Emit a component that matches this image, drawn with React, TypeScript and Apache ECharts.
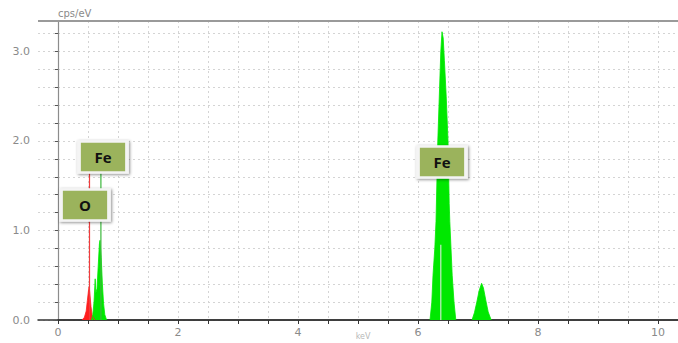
import React, { useEffect, useRef } from "react";
import * as echarts from "echarts";

// ---- data ----
const yAxisName = "cps/eV";
const xAxisName = "keV";

const oEnergy = [0.4, 0.44, 0.47, 0.49, 0.51, 0.52, 0.53, 0.55, 0.57, 0.6, 0.62];
const oCps = [0, 0.03, 0.1, 0.22, 0.34, 0.37, 0.3, 0.15, 0.05, 0.01, 0];

const feLEnergy = [0.56, 0.58, 0.6, 0.62, 0.63, 0.65, 0.67, 0.69, 0.7, 0.72, 0.74, 0.76, 0.78, 0.81];
const feLCps = [0, 0.06, 0.2, 0.46, 0.3, 0.35, 0.6, 0.85, 0.89, 0.7, 0.4, 0.18, 0.06, 0];

const feKaEnergy = [6.2, 6.23, 6.25, 6.28, 6.3, 6.33, 6.36, 6.38, 6.4, 6.42, 6.44, 6.47, 6.5, 6.52, 6.53, 6.55, 6.57, 6.6, 6.63];
const feKaCps = [0, 0.2, 0.5, 0.8, 1.1, 2.0, 2.6, 3.0, 3.22, 3.15, 2.9, 2.5, 2.0, 1.3, 1.1, 0.8, 0.5, 0.2, 0];

const feKbEnergy = [6.9, 6.94, 6.98, 7.02, 7.06, 7.09, 7.13, 7.17, 7.22];
const feKbCps = [0, 0.08, 0.2, 0.33, 0.41, 0.36, 0.22, 0.09, 0];

// element labels: name, energy, cps of label anchor
const labelNames = ["O", "Fe", "Fe"];
const labelEnergy = [0.45, 0.75, 6.4];
const labelCps = [1.285, 1.82, 1.765];

// element marker lines: energy, top, colour
const markerEnergy = [0.525, 0.715, 6.38];
const markerTop = [1.65, 1.65, 0.84];
const markerColors = ["#f03c3c", "#3cb83c", "#c8ecc8"];

const GREEN = "#00e800";
const RED = "#ff1e1e";

const pairs = (xs: number[], ys: number[]) => xs.map((x, i) => [x, ys[i]]);

export default function App() {
  const ref = useRef<HTMLDivElement>(null);
  useEffect(() => {
    if (!ref.current) return;
    const chart = echarts.init(ref.current, null, { renderer: "svg" });
    const PX = 60; // px per keV
    const xMin0 = -1 / 3;
    const xMax = 10.5;
    const left0 = 38;
    const top = 21;
    const height = 299;
    const gridLineColor = "#d4d4d4";
    const labelColor = "#8a8a8a";

    const areaSeries = (name: string, xs: number[], ys: number[], color: string) => ({
      name,
      type: "line",
      xAxisIndex: 0,
      yAxisIndex: 0,
      data: pairs(xs, ys),
      showSymbol: false,
      symbol: "none",
      color,
      lineStyle: { color, width: 0.8 },
      areaStyle: { color, opacity: 1 },
      z: 3,
    });

    const markerSeries = markerEnergy.map((e, i) => ({
      name: "marker" + i,
      type: "line",
      xAxisIndex: 0,
      yAxisIndex: 0,
      data: [[e, 0], [e, markerTop[i]]],
      showSymbol: false,
      symbol: "none",
      silent: true,
      color: markerColors[i],
      lineStyle: { color: markerColors[i], width: 1.2, type: "solid" },
      z: 4,
    }));

    chart.setOption({
      animation: false,
      grid: [
        { left: left0, top, width: (xMax - xMin0) * PX, height, containLabel: false, outerBoundsMode: "none" },
        { left: left0 + (-xMin0) * PX, top, width: xMax * PX, height, containLabel: false, outerBoundsMode: "none" },
      ],
      xAxis: [
        {
          type: "value",
          gridIndex: 0,
          min: xMin0,
          max: xMax,
          axisLine: { show: true, onZero: false, lineStyle: { color: "#333", width: 1.5 } },
          axisTick: { show: false },
          axisLabel: { show: false },
          splitLine: { show: false },
        },
        {
          type: "value",
          gridIndex: 1,
          min: 0,
          max: xMax,
          interval: 0.5,
          name: xAxisName,
          nameLocation: "middle",
          nameGap: 12,
          nameMoveOverlap: false,
          nameTextStyle: { color: "#b8b8b8", fontSize: 8, fontFamily: "DejaVu Sans", padding: [0, 20, 0, 0] },
          axisLine: { show: true, onZero: false, lineStyle: { color: "#333", width: 1.5 } },
          axisTick: { show: true, length: 4, lineStyle: { color: "#333", width: 1 } },
          axisLabel: {
            color: labelColor,
            fontSize: 11,
            fontFamily: "DejaVu Sans",
            margin: 7,
            formatter: (v: number) => (Math.abs(v / 2 - Math.round(v / 2)) < 1e-6 ? String(Math.round(v)) : ""),
          },
          splitLine: { show: true, lineStyle: { color: gridLineColor, type: [2, 3], width: 1 } },
        },
      ],
      yAxis: [
        {
          type: "value",
          gridIndex: 0,
          min: 0,
          max: 3.34,
          interval: 0.2,
          name: yAxisName,
          nameLocation: "end",
          nameGap: 3,
          nameTextStyle: { color: labelColor, fontSize: 10, fontFamily: "DejaVu Sans", align: "left", padding: [0, 0, 0, 0] },
          axisLine: { show: true, lineStyle: { color: "#8c8c8c", width: 1.2 } },
          axisTick: { show: true, length: 3, lineStyle: { color: "#555", width: 1 } },
          axisLabel: {
            color: labelColor,
            fontSize: 11,
            fontFamily: "DejaVu Sans",
            margin: 8,
            formatter: (v: number) => (Math.abs(v - Math.round(v)) < 1e-6 && v <= 3.01 ? v.toFixed(1) : ""),
          },
          splitLine: { show: true, lineStyle: { color: gridLineColor, type: [2, 3], width: 1 } },
        },
        {
          type: "value",
          gridIndex: 1,
          min: 0,
          max: 3.34,
          show: false,
          splitLine: { show: false },
        },
      ],
      graphic: [
        {
          type: "line",
          shape: { x1: left0, y1: top, x2: 700, y2: top },
          style: { stroke: "#9a9a9a", lineWidth: 2 },
          z: 10,
        },
      ],
      series: [
        areaSeries("O", oEnergy, oCps, RED),
        areaSeries("Fe L", feLEnergy, feLCps, GREEN),
        areaSeries("Fe Ka", feKaEnergy, feKaCps, GREEN),
        areaSeries("Fe Kb", feKbEnergy, feKbCps, GREEN),
        ...markerSeries,
        {
          name: "labels",
          type: "line",
          xAxisIndex: 0,
          yAxisIndex: 0,
          data: [],
          z: 6,
          markPoint: {
            silent: true,
            symbol: "rect",
            symbolSize: [48, 31],
            itemStyle: {
              color: "#9bb35c",
              borderColor: "#f4f4f4",
              borderWidth: 3,
              shadowBlur: 3,
              shadowColor: "rgba(0,0,0,0.45)",
              shadowOffsetX: 1,
              shadowOffsetY: 1,
            },
            label: {
              show: true,
              position: "inside",
              color: "#111",
              fontSize: 15,
              fontWeight: "bold",
              fontFamily: "Open Sans",
              formatter: (p: any) => p.name,
            },
            data: labelNames.map((n, i) => ({ name: n, coord: [labelEnergy[i], labelCps[i]] })),
          },
        },
      ],
    });
    return () => chart.dispose();
  }, []);
  return <div ref={ref} style={{ width: 678, height: 343, position: "absolute", left: 0, top: 0, background: "#fff" }} />;
}
